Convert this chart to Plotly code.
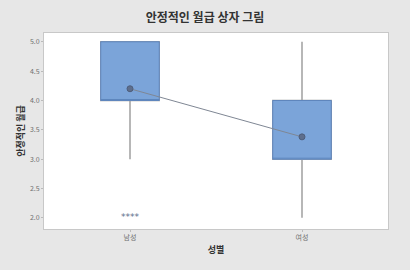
import plotly.graph_objects as go

categories = ["남성", "여성"]
q1 = [4.0, 3.0]
median = [4.0, 3.0]
q3 = [5.0, 4.0]
lower_whisker = [3.0, 2.0]
upper_whisker = [5.0, 5.0]
means = [4.2, 3.38]
outlier_cat = ["남성"]
outlier_val = [2.0]
y_ticks = [2.0, 2.5, 3.0, 3.5, 4.0, 4.5, 5.0]

FONT = "Noto Sans CJK KR"

fig = go.Figure()
# whiskers (gray)
fig.add_trace(go.Box(
    x=categories, q1=q1, median=median, q3=q3,
    lowerfence=lower_whisker, upperfence=upper_whisker,
    width=0.34, fillcolor="#7BA4D9",
    line=dict(color="#A0A0A0", width=1.5),
    whiskerwidth=0, boxpoints=False, hoverinfo="skip",
))
# box bodies (blue outline)
fig.add_trace(go.Box(
    x=categories, q1=q1, median=median, q3=q3,
    lowerfence=q1, upperfence=q3,
    width=0.34, fillcolor="#7BA4D9",
    line=dict(color="#5F86BE", width=1),
    whiskerwidth=0, boxpoints=False, hoverinfo="skip",
))
fig.add_trace(go.Scatter(
    x=categories, y=means, mode="lines+markers",
    line=dict(color="#7F8794", width=1),
    marker=dict(color="#5E6E8C", size=6, line=dict(color="#4E5E7C", width=1)),
))
fig.add_trace(go.Scatter(
    x=outlier_cat, y=outlier_val, mode="text", text=["****"],
    textfont=dict(family="DejaVu Sans", size=9, color="#5E6E8C"),
    textposition="middle center",
))

fig.update_layout(
    width=410, height=270,
    margin=dict(l=44, r=22, t=33, b=41),
    paper_bgcolor="#E7E7E7", plot_bgcolor="#FFFFFF",
    showlegend=False, boxmode="overlay",
    font=dict(family=FONT, color="#555555"),
    title=dict(text="<b>안정적인 월급 상자 그림</b>", x=0.5, xanchor="center",
               y=0.935, yanchor="middle",
               font=dict(family=FONT, size=12, color="#333333")),
)
fig.update_xaxes(
    type="category", range=[-0.5, 1.5], automargin=False,
    showgrid=False, zeroline=False,
    showline=True, linecolor="#C8C8C8", mirror=True,
    ticks="outside", ticklen=2, tickcolor="#BBBBBB",
    tickfont=dict(family=FONT, size=7, color="#707070"),
    title=dict(text="<b>성별</b>", font=dict(family=FONT, size=9, color="#333333"),
               standoff=5),
)
fig.update_yaxes(
    range=[1.81, 5.15], tickvals=y_ticks, automargin=False,
    ticktext=[f"{v:.1f}" for v in y_ticks],
    showgrid=False, zeroline=False,
    showline=True, linecolor="#C8C8C8", mirror=True,
    ticks="outside", ticklen=2, tickcolor="#BBBBBB",
    tickfont=dict(family=FONT, size=7, color="#707070"),
    title=dict(text="<b>안정적인 월급</b>", font=dict(family=FONT, size=9, color="#333333"),
               standoff=3),
)

fig.write_html(
    "out.html",
    config={"displayModeBar": False},
    post_script="document.body.style.margin='0';document.body.style.background='#E7E7E7';",
)
